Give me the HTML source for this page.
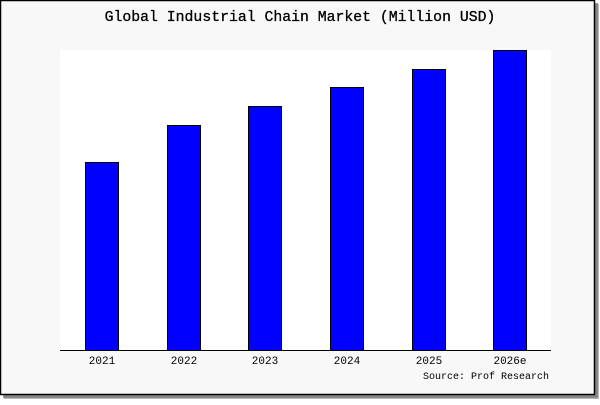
<!DOCTYPE html>
<html><head><style>
body{margin:0;width:600px;height:400px;background:#fff;overflow:hidden}
</style></head><body>
<svg width="600" height="400" xmlns="http://www.w3.org/2000/svg">
<rect x="3" y="3" width="595" height="395" fill="#999"/>
<rect x="4" y="4" width="595" height="395" fill="#777" opacity="0.5"/>
<rect x="0.5" y="0.5" width="594" height="394" fill="#f8f8f8" stroke="#000" stroke-width="1.5"/>
<rect x="60" y="50" width="491" height="300" fill="#fff"/>
<text x="300" y="21" text-anchor="middle" font-family="Liberation Mono, monospace" font-size="14.8" fill="#000" stroke="#000" stroke-width="0.3">Global Industrial Chain Market (Million USD)</text>
<g fill="#0000ff" stroke="#000" stroke-width="1">
<rect x="85.5" y="162.5" width="33" height="188"/>
<rect x="167.5" y="125.5" width="33" height="225"/>
<rect x="248.5" y="106.5" width="33" height="244"/>
<rect x="330.5" y="87.5" width="33" height="263"/>
<rect x="412.5" y="69.5" width="33" height="281"/>
<rect x="493.5" y="50.5" width="33" height="300"/>
</g>
<line x1="60" y1="350.5" x2="551" y2="350.5" stroke="#000"/>
<g font-family="Liberation Mono, monospace" font-size="11" fill="#000" text-anchor="middle">
<text x="102" y="364">2021</text>
<text x="184" y="364">2022</text>
<text x="265" y="364">2023</text>
<text x="347" y="364">2024</text>
<text x="429" y="364">2025</text>
<text x="510" y="364">2026e</text>
<text x="549" y="379" text-anchor="end" font-size="10">Source: Prof Research</text>
</g>
</svg>
</body></html>
